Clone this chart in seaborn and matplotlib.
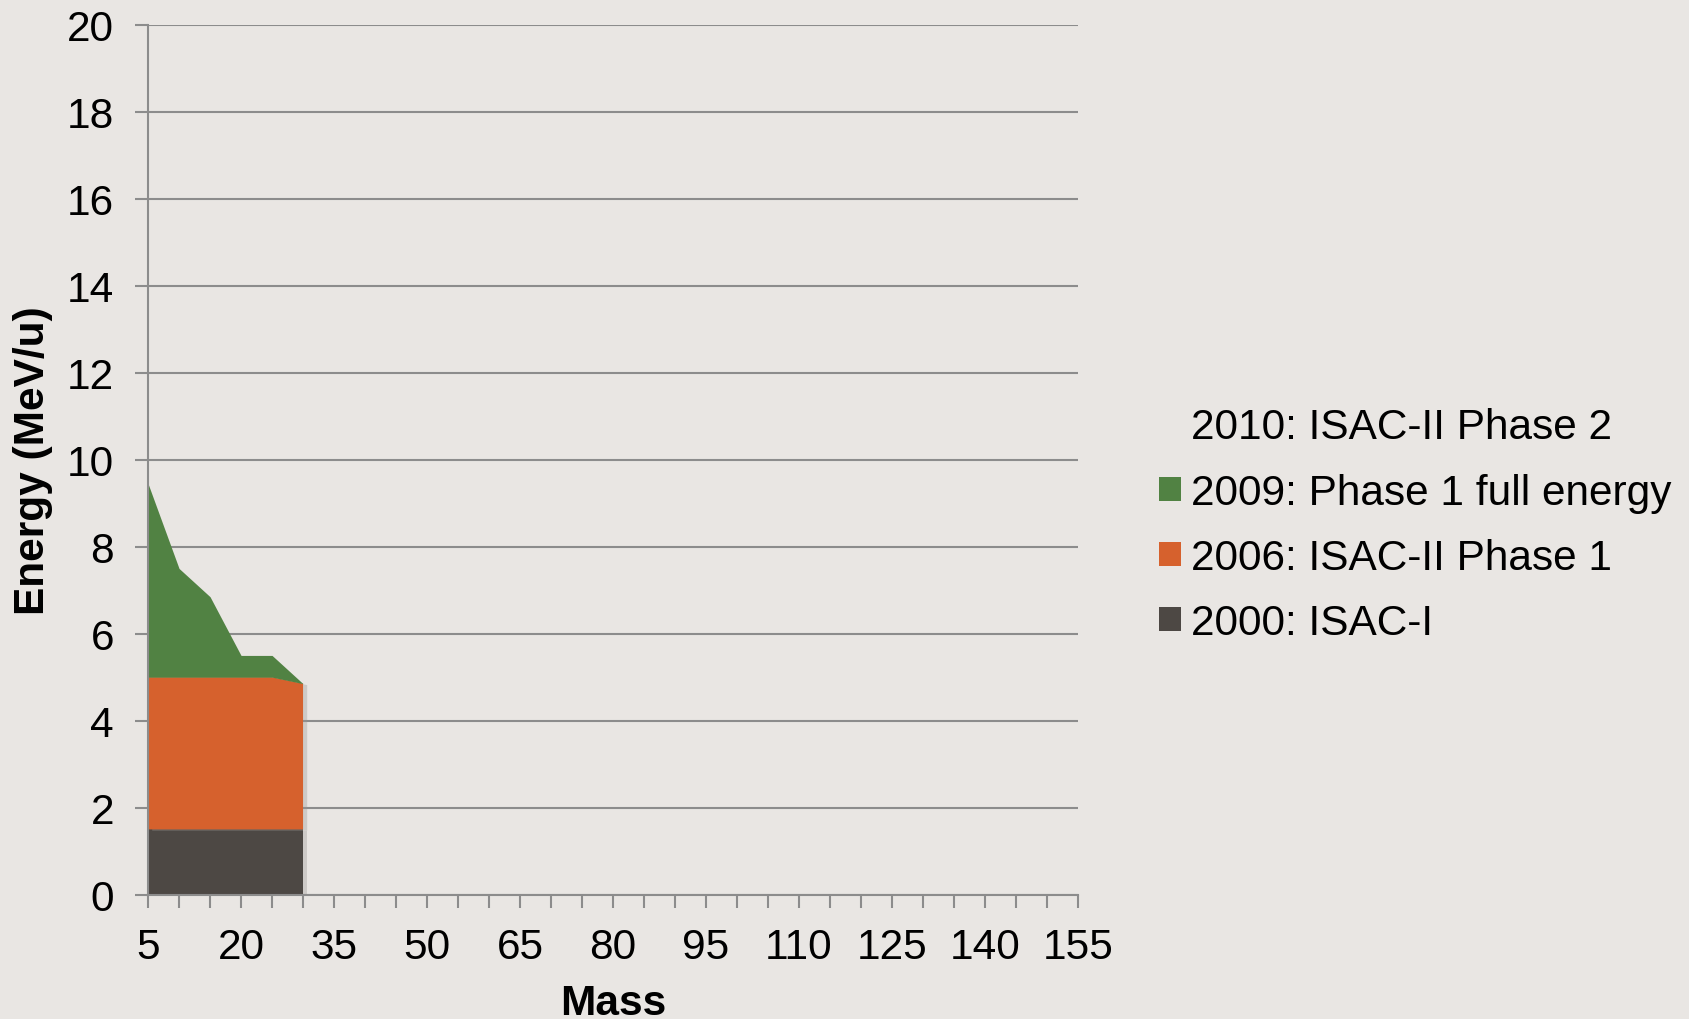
import matplotlib
matplotlib.use("Agg")
import matplotlib.pyplot as plt
import matplotlib.patheffects as pe
from matplotlib.patches import Patch
import numpy as np
import pandas as pd
import seaborn as sns

# Accelerated beam energy available per mass (stacked contributions, MeV/u)
mass = [5, 10, 15, 20, 25, 30]
isac_i = [1.5, 1.5, 1.5, 1.5, 1.5, 1.5]
isac_ii_phase1 = [3.5, 3.5, 3.5, 3.5, 3.5, 3.35]
phase1_full = [4.45, 2.5, 1.85, 0.5, 0.5, 0.0]

series_labels = ["2000: ISAC-I", "2006: ISAC-II Phase 1", "2009: Phase 1 full energy"]
phase2_label = "2010: ISAC-II Phase 2"
x_ticklabels = ["5", "20", "35", "50", "65", "80", "95", "110", "125", "140", "155"]

BG = "#E9E6E3"
GRID = "#8C8C8C"
colors = ["#4D4844", "#D6612D", "#518243"]
FS = 30.5

sns.set_theme(style="white", rc={
    "axes.facecolor": BG,
    "figure.facecolor": BG,
    "savefig.facecolor": BG,
    "text.color": "black",
    "axes.labelcolor": "black",
    "xtick.color": "black",
    "ytick.color": "black",
})
plt.rcParams["font.family"] = ["Liberation Sans", "DejaVu Sans"]

df = pd.DataFrame({"mass": mass, series_labels[0]: isac_i,
                   series_labels[1]: isac_ii_phase1, series_labels[2]: phase1_full})

fig = plt.figure(figsize=(16.9, 10.2), dpi=100)
ax = fig.add_axes([0.0876, 0.1219, 0.5503, 0.8529])

base = np.zeros(len(df))
for i, (lab, col) in enumerate(zip(series_labels, colors)):
    top = base + df[lab].to_numpy()
    p = ax.fill_between(df["mass"], base, top, color=col, linewidth=0, zorder=3)
    if i < 2:
        p.set_path_effects([pe.SimplePatchShadow(offset=(3, -1), shadow_rgbFace="#9a9794", alpha=0.35),
                            pe.Normal()])
    base = top

ax.set_xlim(5, 155)
ax.set_ylim(0, 20)
ax.set_yticks(np.arange(0, 21, 2))
ax.set_xticks(np.arange(5, 156, 15))
ax.set_xticklabels(x_ticklabels)
ax.set_xticks(np.arange(5, 156, 5), minor=True)

ax.yaxis.grid(True, color=GRID, linewidth=1.5, zorder=1)
ax.set_axisbelow(True)
for side in ["top", "right"]:
    ax.spines[side].set_visible(False)
for side in ["left", "bottom"]:
    ax.spines[side].set_color(GRID)
    ax.spines[side].set_linewidth(1.5)
    ax.spines[side].set_zorder(4)

ax.tick_params(axis="y", which="major", direction="out", length=9.5, width=1.5,
               color=GRID, labelcolor="black", labelsize=FS, pad=15, left=True)
ax.tick_params(axis="x", which="both", direction="out", length=9, width=1.5,
               color=GRID, labelcolor="black", labelsize=FS, pad=14, bottom=True)

ax.set_xlabel("Mass", fontsize=FS, fontweight="bold", labelpad=12, color="black")
ax.set_ylabel("Energy (MeV/u)", fontsize=FS, fontweight="bold", labelpad=10, color="black")

handles = [Patch(facecolor="none", edgecolor="none"),
           Patch(facecolor=colors[2], edgecolor="none"),
           Patch(facecolor=colors[1], edgecolor="none"),
           Patch(facecolor=colors[0], edgecolor="none")]
labels = [phase2_label, series_labels[2], series_labels[1], series_labels[0]]
fig.legend(handles, labels, loc="center left", bbox_to_anchor=(0.676, 0.484),
           frameon=False, fontsize=FS, handlelength=0.5, handleheight=0.5,
           handletextpad=0.25, labelspacing=0.6, borderaxespad=0,
           labelcolor="black")

fig.savefig("out.png", dpi=100)
